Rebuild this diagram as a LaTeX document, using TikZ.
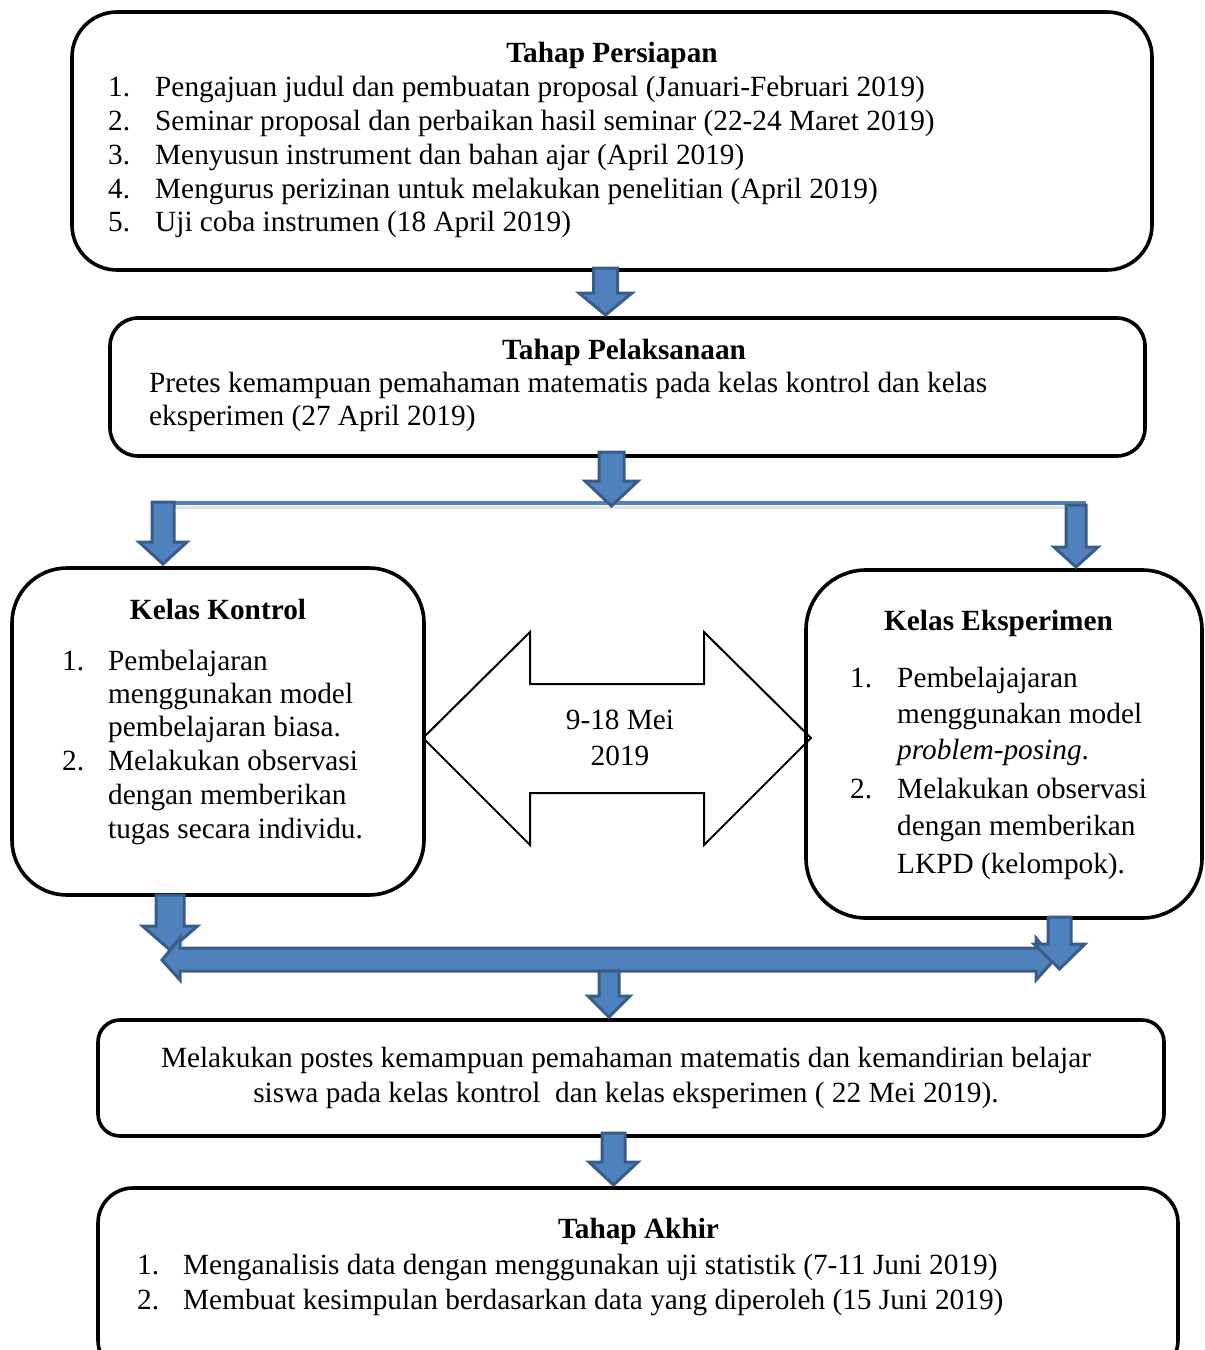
\documentclass[tikz,border=0pt]{standalone}
\usepackage{fontspec}
\setmainfont{Liberation Serif}
\definecolor{blkfill}{RGB}{79,129,189}
\definecolor{blkline}{RGB}{56,93,138}
\tikzset{
  box/.style={draw=black, line width=3.6pt, rectangle, inner sep=0pt, fill=none},
  blk/.style={fill=blkfill, draw=blkline, line width=3pt, line join=miter},
  txt/.style={anchor=base west, inner sep=0pt},
  ttl/.style={anchor=base, inner sep=0pt, font=\bfseries},
  ctr/.style={anchor=base, inner sep=0pt}
}
\newcommand{\bdown}[7]{% name, cx, shaft half, head half, ytop, yhead, ytip
  \draw[blk] ({#2-#3},#5) coordinate (#1-top) -- ({#2+#3},#5) -- ({#2+#3},#6) -- ({#2+#4},#6) -- (#2,#7) coordinate (#1-tip) -- ({#2-#4},#6) -- ({#2-#3},#6) -- cycle;}
\begin{document}
\begin{tikzpicture}[x=1pt,y=-1pt]
\useasboundingbox (0,0) rectangle (1205,1350);
\clip (0,0) rectangle (1205,1350);
\fontsize{29.3}{34}\selectfont

% boxes
\node[box, rounded corners=45pt, minimum width=1080pt, minimum height=258pt] (persiapan) at (612,141) {};
\node[box, rounded corners=28pt, minimum width=1035pt, minimum height=138pt] (pelaksanaan) at (627.5,387) {};
\node[box, rounded corners=55pt, minimum width=412pt, minimum height=327pt] (kontrol) at (218,731.5) {};
\node[box, rounded corners=22pt, minimum width=1066pt, minimum height=116pt] (postes) at (631,1078) {};
\node[box, rounded corners=35pt, minimum width=1080pt, minimum height=187pt] (akhir) at (638,1281.5) {};

% white double arrow
\draw[black, line width=2pt, line join=miter] (423,738) coordinate (dl) -- (530,632) -- (530,684) -- (704,684) -- (704,632) -- (811,738) coordinate (dr) -- (704,845) -- (704,793) -- (530,793) -- (530,845) -- cycle;
\node[ctr] (mei1) at (620,729) {9-18 Mei};
\node[ctr] (mei2) at (620,765) {2019};

\node[box, rounded corners=60pt, minimum width=396pt, minimum height=348pt] (eksperimen) at (1004,744) {};

% Tahap Persiapan text
\node[ttl] (t1) at (612,62) {Tahap Persiapan};
\node[txt] (a1) at (108,96) {1.};  \node[txt] (b1) at (155,96) {Pengajuan judul dan pembuatan proposal (Januari-Februari 2019)};
\node[txt] (a2) at (108,130) {2.}; \node[txt] (b2) at (155,130) {Seminar proposal dan perbaikan hasil seminar (22-24 Maret 2019)};
\node[txt] (a3) at (108,164) {3.}; \node[txt] (b3) at (155,164) {Menyusun instrument dan bahan ajar (April 2019)};
\node[txt] (a4) at (108,198) {4.}; \node[txt] (b4) at (155,198) {Mengurus perizinan untuk melakukan penelitian (April 2019)};
\node[txt] (a5) at (108,231) {5.}; \node[txt] (b5) at (155,231) {Uji coba instrumen (18 April 2019)};

% Tahap Pelaksanaan text
\node[ttl] (t2) at (624,359) {Tahap Pelaksanaan};
\node[txt] (c1) at (149,392) {Pretes kemampuan pemahaman matematis pada kelas kontrol dan kelas};
\node[txt] (c2) at (149,425) {eksperimen (27 April 2019)};

% Kelas Kontrol
\node[ttl] (t3) at (218,619) {Kelas Kontrol};
\node[txt] (k1n) at (62,670) {1.};
\node[txt] (k1a) at (108,670) {Pembelajaran};
\node[txt] (k1b) at (108,703) {menggunakan model};
\node[txt] (k1c) at (108,736) {pembelajaran biasa.};
\node[txt] (k2n) at (62,770) {2.};
\node[txt] (k2a) at (108,770) {Melakukan observasi};
\node[txt] (k2b) at (108,804) {dengan memberikan};
\node[txt] (k2c) at (108,838) {tugas secara individu.};

% Kelas Eksperimen
\node[ttl] (t4) at (998.5,630) {Kelas Eksperimen};
\node[txt] (e1n) at (850,687) {1.};
\node[txt] (e1a) at (897,687) {Pembelajajaran};
\node[txt] (e1b) at (897,723) {menggunakan model};
\node[txt] (e1c) at (897,759) {\textit{problem-posing}.};
\node[txt] (e2n) at (850,798) {2.};
\node[txt] (e2a) at (897,798) {Melakukan observasi};
\node[txt] (e2b) at (897,835) {dengan memberikan};
\node[txt] (e2c) at (897,873) {LKPD (kelompok).};

% Postes
\node[ctr] (p1) at (626,1067) {Melakukan postes kemampuan pemahaman matematis dan kemandirian belajar};
\node[ctr] (p2) at (626,1102) {siswa pada kelas kontrol\ \ dan kelas eksperimen ( 22 Mei 2019).};

% Tahap Akhir
\node[ttl] (t6) at (638.5,1238) {Tahap Akhir};
\node[txt] (f1n) at (137,1274) {1.}; \node[txt] (f1) at (183,1274) {Menganalisis data dengan menggunakan uji statistik (7-11 Juni 2019)};
\node[txt] (f2n) at (137,1309) {2.}; \node[txt] (f2) at (183,1309) {Membuat kesimpulan berdasarkan data yang diperoleh (15 Juni 2019)};

% arrows top
\bdown{arA}{605.5}{12}{26.5}{268}{293}{315}
\draw[gray!22, line width=3pt] (154,507) coordinate (sl) -- (1086,507) coordinate (sr);
\draw[blkfill, line width=4.5pt] (152,503) coordinate (hl) -- (1086,503) coordinate (hr);
\bdown{arB}{611.5}{12.5}{26.5}{452}{481}{506}
\bdown{arL}{163}{11}{24}{502}{542}{564}
\bdown{arR}{1076}{10}{22}{505}{547}{567}

% arrows bottom
\bdown{arKL}{170}{14}{27.5}{895}{926}{950}
\draw[blk] (162,960) coordinate (dal) -- (180,938) -- (180,948) -- (1036,948) -- (1036,938) -- (1054,960) coordinate (dar) -- (1036,980) -- (1036,971) -- (180,971) -- (180,980) -- cycle;
\bdown{arC}{609}{10}{21}{971}{996}{1017}
\bdown{arER}{1059.5}{11.5}{25.5}{917}{944}{969}
\bdown{arD}{613.5}{11.5}{24.5}{1133}{1162}{1185}
\end{tikzpicture}
\end{document}
